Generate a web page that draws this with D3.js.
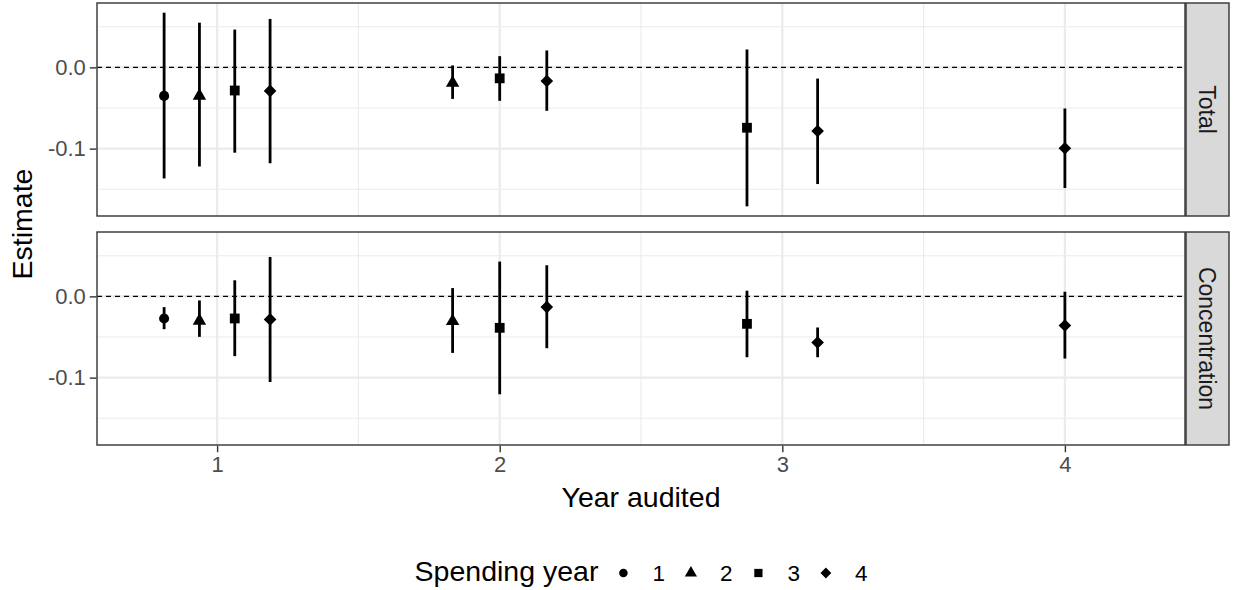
<!DOCTYPE html>
<html>
<head>
<meta charset="utf-8">
<script src="https://cdn.jsdelivr.net/npm/d3@7"></script>
<style>
  body { margin: 0; background: #fff; }
  svg { display: block; font-family: "Liberation Sans", Arial, sans-serif; }
</style>
</head>
<body>
<svg id="chart" width="1233" height="590"></svg>
<script>
// data
var facets = ["Total", "Concentration"];
var yearAudited  = [1, 1, 1, 1, 2, 2, 2, 3, 3, 4];
var spendingYear = [1, 2, 3, 4, 2, 3, 4, 3, 4, 4];

var totalEst  = [-0.0351, -0.0350, -0.0285, -0.0290, -0.0192, -0.0135, -0.0168, -0.0743, -0.0783, -0.0995];
var totalLow  = [-0.1367, -0.1220, -0.1050, -0.1180, -0.0388, -0.0412, -0.0535, -0.1710, -0.1436, -0.1485];
var totalHigh = [ 0.0673,  0.0550,  0.0465,  0.0596,  0.0024,  0.0138,  0.0208,  0.0220, -0.0138, -0.0506];

var concEst  = [-0.0272, -0.0301, -0.0272, -0.0284, -0.0305, -0.0387, -0.0132, -0.0338, -0.0568, -0.0358];
var concLow  = [-0.0404, -0.0498, -0.0736, -0.1054, -0.0696, -0.1205, -0.0638, -0.0749, -0.0749, -0.0765];
var concHigh = [-0.0132, -0.0050,  0.0198,  0.0485,  0.0102,  0.0428,  0.0383,  0.0070, -0.0383,  0.0057];

var xTicks = [1, 2, 3, 4];
var xMinor = [1.5, 2.5, 3.5];
var yTicks = [-0.1, 0.0];
var yMinor = [-0.15, -0.05, 0.05];
var legendLabels = ["1", "2", "3", "4"];

var svg = d3.select("#chart");

var left = 97, right = 1185, stripW = 43;
var panelTop = [3, 232], panelH = 213;

var grey20 = "#333333", grid = "#EBEBEB";

function buildRows(est, low, high) {
    var rows = [];
    for (var i = 0; i < est.length; i++) {
        rows.push({x: yearAudited[i], g: spendingYear[i], est: est[i], low: low[i], high: high[i]});
    }
    // dodge, width 0.5
    xTicks.forEach(function(xv) {
        var grp = rows.filter(function(d) { return d.x == xv; });
        var n = grp.length;
        grp.forEach(function(d, j) { d.xd = xv + (j - (n - 1) / 2) * 0.5 / n; });
    });
    return rows;
}

var panels = [
    buildRows(totalEst, totalLow, totalHigh),
    buildRows(concEst, concLow, concHigh)
];

var allVals = totalLow.concat(totalHigh, concLow, concHigh);
var yext = d3.extent(allVals);
var ypad = (yext[1] - yext[0]) * 0.05;

var xs = d3.scaleLinear().domain([0.575, 4.425]).range([left, right]);

var shapes = {
    1: d3.symbol().type(d3.symbolCircle).size(80),
    2: d3.symbol().type(d3.symbolTriangle).size(78),
    3: d3.symbol().type(d3.symbolSquare).size(96),
    4: d3.symbol().type(d3.symbolSquare).size(80)
};
function shapeRot(g) { return g == 4 ? " rotate(45)" : ""; }

panels.forEach(function(rows, p) {
    var top = panelTop[p];
    var ys = d3.scaleLinear().domain([yext[0] - ypad, yext[1] + ypad]).range([top + panelH, top]);
    var g = svg.append("g");

    g.append("rect")
        .attr("x", left).attr("y", top)
        .attr("width", right - left).attr("height", panelH)
        .attr("fill", "#fff");

    // grid
    g.selectAll(".ymin").data(yMinor).enter().append("line")
        .attr("x1", left).attr("x2", right)
        .attr("y1", function(d) { return ys(d); }).attr("y2", function(d) { return ys(d); })
        .attr("stroke", grid).attr("stroke-width", 1.1);
    g.selectAll(".xmin").data(xMinor).enter().append("line")
        .attr("y1", top).attr("y2", top + panelH)
        .attr("x1", function(d) { return xs(d); }).attr("x2", function(d) { return xs(d); })
        .attr("stroke", grid).attr("stroke-width", 1.1);
    g.selectAll(".ymaj").data(yTicks).enter().append("line")
        .attr("x1", left).attr("x2", right)
        .attr("y1", function(d) { return ys(d); }).attr("y2", function(d) { return ys(d); })
        .attr("stroke", grid).attr("stroke-width", 2.2);
    g.selectAll(".xmaj").data(xTicks).enter().append("line")
        .attr("y1", top).attr("y2", top + panelH)
        .attr("x1", function(d) { return xs(d); }).attr("x2", function(d) { return xs(d); })
        .attr("stroke", grid).attr("stroke-width", 2.2);

    // zero reference
    g.append("line")
        .attr("x1", left).attr("x2", right)
        .attr("y1", ys(0)).attr("y2", ys(0))
        .attr("stroke", "#000").attr("stroke-width", 1.4)
        .attr("stroke-dasharray", "5,4");

    g.selectAll(".bar").data(rows).enter().append("line")
        .attr("x1", function(d) { return xs(d.xd); }).attr("x2", function(d) { return xs(d.xd); })
        .attr("y1", function(d) { return ys(d.low); }).attr("y2", function(d) { return ys(d.high); })
        .attr("stroke", "#000").attr("stroke-width", 2.8);

    g.selectAll(".pt").data(rows).enter().append("path")
        .attr("d", function(d) { return shapes[d.g](); })
        .attr("transform", function(d) { return "translate(" + xs(d.xd) + "," + ys(d.est) + ")" + shapeRot(d.g); })
        .attr("fill", "#000");

    g.append("rect")
        .attr("x", left).attr("y", top)
        .attr("width", right - left).attr("height", panelH)
        .attr("fill", "none").attr("stroke", grey20).attr("stroke-width", 1.4);

    // y axis
    var yAxis = d3.axisLeft(ys).tickValues(yTicks).tickSize(6.5).tickPadding(4)
        .tickFormat(function(d) { return d.toFixed(1); });
    var ya = g.append("g").attr("transform", "translate(" + (left - 0.7) + ",0)").call(yAxis);
    ya.select(".domain").remove();
    ya.selectAll(".tick line").attr("stroke", grey20).attr("stroke-width", 1.4);
    ya.selectAll(".tick text").attr("fill", "#4D4D4D").style("font-size", "22px")
        .style("font-family", "'Liberation Sans', Arial, sans-serif");

    // strip
    var sx = right + 1;
    g.append("rect")
        .attr("x", sx).attr("y", top)
        .attr("width", stripW).attr("height", panelH)
        .attr("fill", "#D9D9D9").attr("stroke", grey20).attr("stroke-width", 1.4);
    g.append("text")
        .attr("transform", "translate(" + (sx + stripW / 2) + "," + (top + panelH / 2) + ") rotate(90)")
        .attr("text-anchor", "middle")
        .attr("dy", "0.35em")
        .attr("fill", "#1A1A1A")
        .style("font-size", "23px")
        .text(facets[p]);

    if (p == 1) {
        var xAxis = d3.axisBottom(xs).tickValues(xTicks).tickSize(6.5).tickPadding(4)
            .tickFormat(d3.format("d"));
        var xa = g.append("g").attr("transform", "translate(0," + (top + panelH + 0.7) + ")").call(xAxis);
        xa.select(".domain").remove();
        xa.selectAll(".tick line").attr("stroke", grey20).attr("stroke-width", 1.4);
        xa.selectAll(".tick text").attr("fill", "#4D4D4D").style("font-size", "22px")
            .style("font-family", "'Liberation Sans', Arial, sans-serif");
    }
});

// axis titles
svg.append("text")
    .attr("x", (left + right) / 2).attr("y", 507)
    .attr("text-anchor", "middle")
    .style("font-size", "28.5px")
    .text("Year audited");

svg.append("text")
    .attr("transform", "translate(32," + ((panelTop[0] + panelTop[1] + panelH) / 2) + ") rotate(-90)")
    .attr("text-anchor", "middle")
    .style("font-size", "28.5px")
    .text("Estimate");

// legend
var lg = svg.append("g");
var title = lg.append("text")
    .attr("x", 0).attr("y", 581)
    .style("font-size", "28.5px")
    .text("Spending year");
var tw = title.node().getComputedTextLength();
var keyX = tw + 25;
legendLabels.forEach(function(lab, i) {
    var kx = keyX + i * 67.5;
    lg.append("path")
        .attr("d", d3.symbol().type(i == 0 ? d3.symbolCircle : (i == 1 ? d3.symbolTriangle : d3.symbolSquare))
            .size(i == 1 ? 64 : (i == 2 ? 68 : 58))())
        .attr("transform", "translate(" + kx + ",573)" + (i == 3 ? " rotate(45)" : ""))
        .attr("fill", "#000");
    lg.append("text")
        .attr("x", kx + 29).attr("y", 581)
        .style("font-size", "22.5px")
        .text(lab);
});
var lw = lg.node().getBBox().width;
lg.attr("transform", "translate(" + ((left + right) / 2 - lw / 2) + ",0)");
</script>
</body>
</html>
